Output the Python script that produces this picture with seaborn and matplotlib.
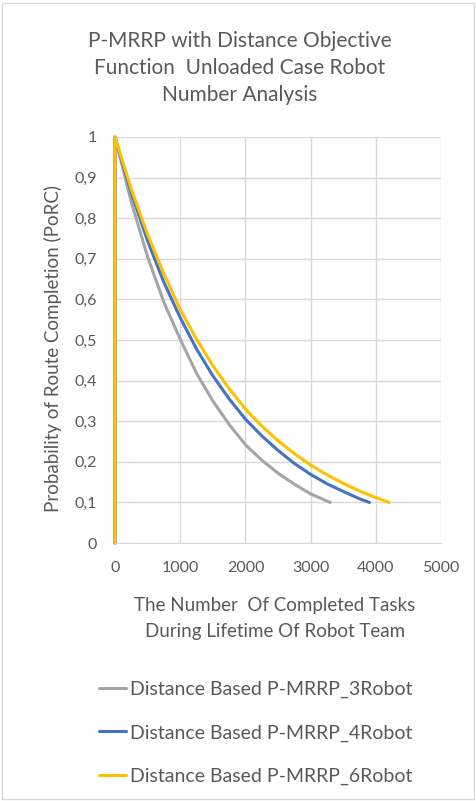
import matplotlib
matplotlib.use("Agg")
import matplotlib.pyplot as plt
import seaborn as sns
import pandas as pd
from matplotlib.ticker import FuncFormatter
from matplotlib.patches import Rectangle

# values
x_3robot = [0, 0, 250, 500, 750, 1000, 1250, 1500, 1750, 2000, 2250, 2500, 2750, 3000, 3300]
y_3robot = [0, 1, 0.84, 0.705, 0.593, 0.502, 0.418, 0.350, 0.292, 0.242, 0.204, 0.172, 0.145, 0.121, 0.10]

x_4robot = [0, 0, 250, 500, 750, 1000, 1250, 1500, 1750, 2000, 2250, 2500, 2750, 3000, 3250, 3500, 3750, 3900]
y_4robot = [0, 1, 0.863, 0.744, 0.642, 0.555, 0.478, 0.412, 0.355, 0.305, 0.264, 0.228, 0.196, 0.169, 0.146, 0.127, 0.109, 0.10]

x_6robot = [0, 0, 250, 500, 750, 1000, 1250, 1500, 1750, 2000, 2250, 2500, 2750, 3000, 3250, 3500, 3750, 4000, 4200]
y_6robot = [0, 1, 0.872, 0.760, 0.663, 0.575, 0.502, 0.437, 0.380, 0.330, 0.288, 0.252, 0.220, 0.192, 0.168, 0.147, 0.128, 0.112, 0.10]

labels = ["Distance Based P-MRRP_3Robot", "Distance Based P-MRRP_4Robot", "Distance Based P-MRRP_6Robot"]
colors = ["#a5a5a5", "#4472c4", "#ffc000"]

frames = []
for lab, xs, ys in zip(labels, [x_3robot, x_4robot, x_6robot], [y_3robot, y_4robot, y_6robot]):
    frames.append(pd.DataFrame({"tasks": xs, "porc": ys, "series": lab}))
df = pd.concat(frames, ignore_index=True)

sns.set_style("white")
plt.rcParams["font.family"] = ["Lato", "DejaVu Sans"]
text_col = "#595959"

fig = plt.figure(figsize=(4.77, 8.01), dpi=100)
ax = fig.add_axes([0.241, 0.322, 0.684, 0.507])

for lab, col in zip(labels, colors):
    sub = df[df.series == lab]
    sns.lineplot(data=sub, x="tasks", y="porc", sort=False, estimator=None,
                 color=col, lw=2.2, ax=ax, label=lab, legend=False)
# the vertical segment at x=0 sits on the axes edge, don't cut it in half
for ln in ax.lines:
    ln.set_clip_on(False)

ax.set_xlim(0, 5000)
ax.set_ylim(0, 1)
ax.set_xticks(range(0, 5001, 1000))
ax.set_yticks([i / 10 for i in range(11)])
ax.yaxis.set_major_formatter(FuncFormatter(lambda v, p: ("%g" % round(v, 1)).replace(".", ",")))
ax.grid(True, color="#d9d9d9", lw=1)
ax.set_axisbelow(True)
for s in ["top", "right", "left"]:
    ax.spines[s].set_visible(False)
ax.spines["bottom"].set_color("#d9d9d9")
ax.tick_params(length=0, labelsize=11.5, colors=text_col)
ax.tick_params(axis="x", pad=13)
ax.tick_params(axis="y", pad=13)

ax.set_xlabel("The Number  Of Completed Tasks\nDuring Lifetime Of Robot Team",
              fontsize=13.5, color=text_col, linespacing=1.65)
ax.xaxis.set_label_coords(0.49, -0.185, transform=ax.transAxes)
ax.xaxis.label.set_va("center")
ax.set_ylabel("Probability of Route Completion (PoRC)", fontsize=13.5, color=text_col)
ax.yaxis.set_label_coords(-0.19, 0.48)
ax.yaxis.label.set_va("center")

fig.text(0.503, 0.915, "P-MRRP with Distance Objective\nFunction  Unloaded Case Robot\nNumber Analysis",
         ha="center", va="center", fontsize=15, color=text_col, linespacing=1.45)

handles, labs = ax.get_legend_handles_labels()
fig.legend(handles, labs, loc="center left", bbox_to_anchor=(0.208, 0.085), frameon=False,
           fontsize=14, labelcolor=text_col, handlelength=1.4, handletextpad=0.2,
           labelspacing=1.35, borderaxespad=0, borderpad=0)

fig.patches.append(Rectangle((0.004, 0.003), 0.99, 0.993, transform=fig.transFigure,
                             fill=False, edgecolor="#d9d9d9", lw=1))

fig.savefig("out.png", dpi=100, facecolor="white")
